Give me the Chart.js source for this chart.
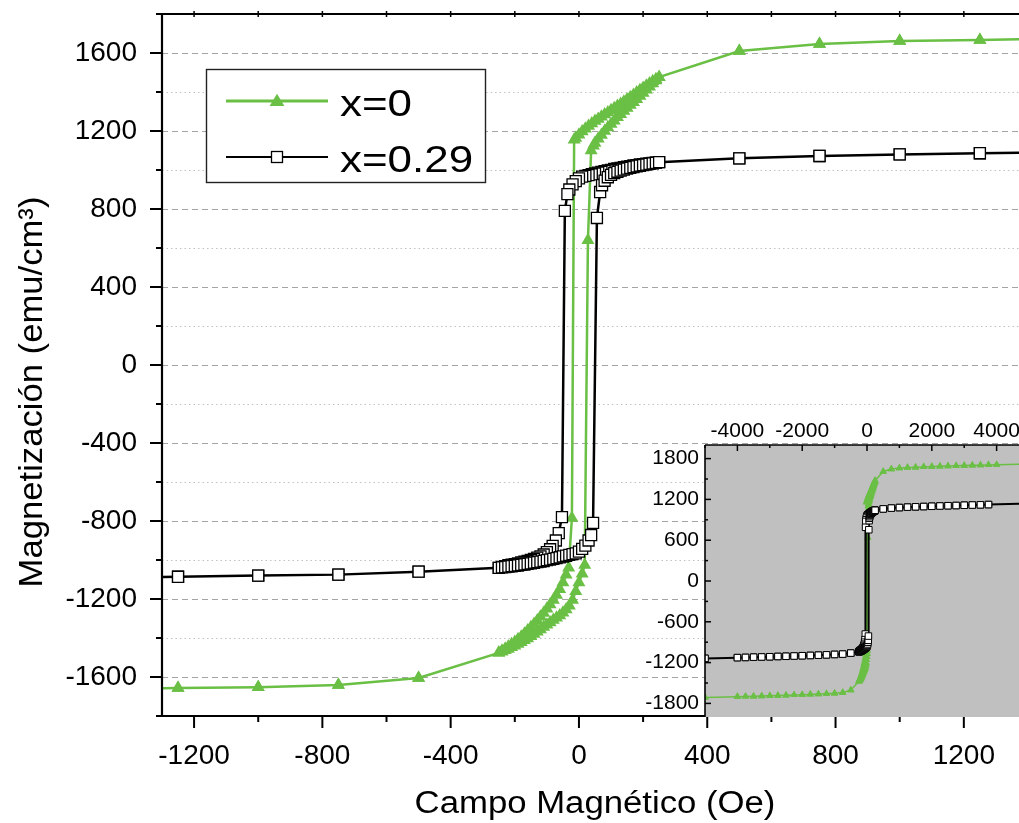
<!DOCTYPE html>
<html><head><meta charset="utf-8">
<script src="https://cdn.jsdelivr.net/npm/chart.js@4/dist/chart.umd.min.js"></script>
<style>
html,body{margin:0;padding:0;background:#fff;overflow:hidden;}
#wrap{position:relative;width:1019px;height:823px;}
#main{position:absolute;left:0;top:0;}
#inset{position:absolute;left:600px;top:380px;}
</style></head><body>
<div id="wrap">
<canvas id="main" width="1019" height="823"></canvas>
<canvas id="inset" width="419" height="443"></canvas>
</div>
<script>
// ---------------- DATA ----------------
const seriesLabels = ['x=0', 'x=0.29'];
const xTitle = 'Campo Magnético (Oe)';
const yTitle = 'Magnetización (emu/cm³)';

// main axis tick labels
const xTickLabels = [-1200, -800, -400, 0, 400, 800, 1200];
const xMinorTicks = [-1000, -600, -200, 200, 600, 1000];
const yTickLabels = [-1600, -1200, -800, -400, 0, 400, 800, 1200, 1600];
const yMinorTicks = [-1800, -1400, -1000, -600, -200, 200, 600, 1000, 1400, 1800];
// inset axis tick labels
const insetXTickLabels = [-4000, -2000, 0, 2000, 4000];
const insetXMinorTicks = [-5000, -3000, -1000, 1000, 3000];
const insetYTickLabels = [-1800, -1200, -600, 0, 600, 1200, 1800];
const insetYMinorTicks = [-1500, -900, -300, 300, 900, 1500];

// x = 0 : descending branch (field decreasing)
const fieldDown_x0 = [5000, 4000, 3750, 3500, 3250, 3000, 2750, 2500, 2250, 2000, 1750, 1500, 1250, 1000, 750, 500,
  250, 240, 230, 220, 210, 200, 190, 180, 170, 160, 150, 140, 130, 120, 110, 100, 90, 80, 70, 60, 50, 40, 30, 20, 10, 0, -10,
  -15, -22, -32,
  -40, -50, -60, -70, -80, -90, -100, -110, -120, -130, -140, -150, -160, -170, -180, -190, -200, -210, -220, -230, -240, -250,
  -500, -750, -1000, -1250, -1500, -1750, -2000, -2250, -2500, -2750, -3000, -3250, -3500, -3750, -4000, -5000];
const magDown_x0 = [1722, 1710, 1707, 1704, 1701, 1698, 1694, 1690, 1686, 1682, 1678, 1673, 1667, 1661, 1646, 1610,
  1476, 1466, 1455, 1444, 1432, 1421, 1409, 1397, 1385, 1373, 1361, 1350, 1339, 1328, 1317, 1306, 1295, 1284, 1273, 1262, 1251, 1239, 1226, 1212, 1197, 1181, 1164,
  1155, -785, -1040,
  -1075, -1115, -1150, -1180, -1205, -1228, -1250, -1272, -1291, -1310, -1328, -1345, -1362, -1378, -1393, -1407, -1420, -1432, -1444, -1455, -1465, -1476,
  -1605, -1641, -1652, -1657, -1663, -1668, -1672, -1676, -1680, -1684, -1688, -1692, -1695, -1698, -1701, -1712];
// x = 0 : ascending branch (field increasing)
const fieldUp_x0 = [-5000, -4000, -3750, -3500, -3250, -3000, -2750, -2500, -2250, -2000, -1750, -1500, -1250, -1000, -750, -500,
  -250, -240, -230, -220, -210, -200, -190, -180, -170, -160, -150, -140, -130, -120, -110, -100, -90, -80, -70, -60, -50, -40, -30, -20, -10, 0,
  10, 18, 28, 38,
  45, 50, 60, 70, 80, 90, 100, 110, 120, 130, 140, 150, 160, 170, 180, 190, 200, 210, 220, 230, 240, 250,
  500, 750, 1000, 1250, 1500, 1750, 2000, 2250, 2500, 2750, 3000, 3250, 3500, 3750, 4000, 5000];
const magUp_x0 = [-1712, -1701, -1698, -1695, -1692, -1688, -1684, -1680, -1676, -1672, -1668, -1663, -1657, -1652, -1641, -1605,
  -1476, -1470, -1463, -1456, -1448, -1440, -1431, -1422, -1412, -1402, -1391, -1380, -1368, -1356, -1344, -1332, -1320, -1308, -1296, -1284, -1270, -1254, -1234, -1205, -1160, -1115,
  -1070, -1025, 640, 1100,
  1125, 1138, 1160, 1180, 1200, 1218, 1236, 1253, 1270, 1286, 1302, 1318, 1333, 1348, 1363, 1380, 1395, 1411, 1427, 1443, 1459, 1476,
  1610, 1646, 1661, 1667, 1673, 1678, 1682, 1686, 1690, 1694, 1698, 1701, 1704, 1707, 1710, 1722];

// x = 0.29 : descending branch
const fieldDown_x029 = [5000, 3750, 3500, 3250, 3000, 2750, 2500, 2250, 2000, 1750, 1500, 1250, 1000, 750, 500,
  250, 240, 230, 220, 210, 200, 190, 180, 170, 160, 150, 140, 130, 120, 110, 100, 90, 80, 70, 60, 50, 40, 30, 20, 10, 0,
  -10, -20, -30, -36, -44,
  -53, -63, -72, -82, -90,
  -100, -110, -120, -130, -140, -150, -160, -170, -180, -190, -200, -210, -220, -230, -240, -250,
  -500, -750, -1000, -1250, -1500, -1750, -2000, -2250, -2500, -2750, -3000, -3250, -3500, -3750, -4000, -5000];
const magDown_x029 = [1138, 1124, 1120, 1117, 1114, 1110, 1107, 1103, 1099, 1095, 1091, 1086, 1080, 1072, 1060,
  1040, 1038, 1036, 1034, 1032, 1030, 1028, 1025, 1023, 1020, 1017, 1014, 1011, 1008, 1005, 1001, 998, 994, 990, 986, 982, 978, 974, 970, 966, 957,
  943, 926, 900, 876, 790,
  -780, -862, -900, -928, -945,
  -960, -972, -981, -988, -995, -1000, -1005, -1009, -1013, -1017, -1021, -1024, -1027, -1031, -1035, -1040,
  -1060, -1075, -1080, -1086, -1091, -1095, -1099, -1103, -1107, -1110, -1114, -1117, -1120, -1124, -1127, -1138];
// x = 0.29 : ascending branch
const fieldUp_x029 = [-5000, -4000, -3750, -3500, -3250, -3000, -2750, -2500, -2250, -2000, -1750, -1500, -1250, -1000, -750, -500,
  -250, -240, -230, -220, -210, -200, -190, -180, -170, -160, -150, -140, -130, -120, -110, -100, -90, -80, -70, -60, -50, -40, -30, -20, -10, 0,
  10, 20, 30, 38, 44,
  56, 66, 72, 80, 90, 100, 110, 120, 130, 140, 150, 160, 170, 180, 190, 200, 210, 220, 230, 240, 250,
  500, 750, 1000, 1250, 1500, 1750, 2000, 2250, 2500, 2750, 3000, 3250, 3500, 3750, 5000];
const magUp_x029 = [-1138, -1127, -1124, -1120, -1117, -1114, -1110, -1107, -1103, -1099, -1095, -1091, -1086, -1080, -1075, -1060,
  -1040, -1038, -1036, -1034, -1032, -1030, -1028, -1025, -1023, -1020, -1017, -1014, -1011, -1008, -1005, -1001, -998, -994, -990, -986, -982, -978, -974, -970, -966, -957,
  -943, -926, -900, -872, -810,
  754, 887, 922, 945, 963, 975, 984, 991, 997, 1002, 1007, 1011, 1015, 1019, 1022, 1025, 1028, 1031, 1034, 1037, 1040,
  1060, 1072, 1080, 1086, 1091, 1095, 1099, 1103, 1107, 1110, 1114, 1117, 1120, 1124, 1138];

// ---------------- STYLE ----------------
const GREEN = '#6abf45';
const FONT = '"Liberation Sans", Arial, sans-serif';

function makeLoop(fd, md, fu, mu) {
  return fd.map((h, i) => ({x: h, y: md[i]})).concat(fu.map((h, i) => ({x: h, y: mu[i]})));
}
function strokeLine(ctx, x1, y1, x2, y2) {
  ctx.beginPath(); ctx.moveTo(x1, y1); ctx.lineTo(x2, y2); ctx.stroke();
}
function noPad(s) { s.paddingTop = 0; s.paddingBottom = 0; s.paddingLeft = 0; s.paddingRight = 0; }

const mainDecor = {
  id: 'mainDecor',
  beforeDatasetsDraw(chart) {
    const {ctx, chartArea: a} = chart;
    const y = chart.scales.y;
    ctx.save();
    ctx.lineWidth = 1;
    ctx.strokeStyle = '#c2c2c2';
    ctx.setLineDash([1.5, 3]);
    yMinorTicks.forEach(v => {
      if (v <= y.min || v >= y.max) return;
      const py = Math.round(y.getPixelForValue(v)) + 0.5;
      strokeLine(ctx, a.left, py, a.right, py);
    });
    ctx.strokeStyle = '#a4a4a4';
    ctx.setLineDash([6, 4]);
    yTickLabels.forEach(v => {
      const py = Math.round(y.getPixelForValue(v)) + 0.5;
      strokeLine(ctx, a.left, py, a.right, py);
    });
    ctx.restore();
  },
  afterDraw(chart) {
    const {ctx, chartArea: a} = chart;
    const xs = chart.scales.x, ys = chart.scales.y;
    ctx.save();
    ctx.strokeStyle = '#000';
    ctx.lineCap = 'butt';
    ctx.lineWidth = 2;
    yTickLabels.forEach(v => { const p = ys.getPixelForValue(v); strokeLine(ctx, a.left - 12, p, a.left, p); });
    yMinorTicks.forEach(v => { const p = ys.getPixelForValue(v); strokeLine(ctx, a.left - 6, p, a.left, p); });
    xTickLabels.forEach(v => { const p = xs.getPixelForValue(v); strokeLine(ctx, p, a.bottom, p, a.bottom + 12); });
    xMinorTicks.forEach(v => { const p = xs.getPixelForValue(v); strokeLine(ctx, p, a.bottom, p, a.bottom + 6); });
    ctx.lineWidth = 1.5;
    xTickLabels.concat(xMinorTicks).forEach(v => { const p = xs.getPixelForValue(v); strokeLine(ctx, p, a.top - 3, p, a.top + 3); });
    ctx.lineWidth = 2.2;
    strokeLine(ctx, a.left, a.top - 1, a.left, a.bottom + 1);
    strokeLine(ctx, a.left - 1, a.top, a.right, a.top);
    strokeLine(ctx, a.left - 1, a.bottom, a.right, a.bottom);

    // legend
    const lx = 206, ly = 69, lw = 279, lh = 113;
    ctx.fillStyle = '#fff';
    ctx.fillRect(lx, ly, lw, lh);
    ctx.lineWidth = 1.4;
    ctx.strokeStyle = '#222';
    ctx.strokeRect(lx + 0.5, ly + 0.5, lw, lh);
    const rows = [
      {ds: chart.data.datasets[1], y: 101, lw: 3},
      {ds: chart.data.datasets[0], y: 157, lw: 2}
    ];
    rows.forEach(r => {
      ctx.strokeStyle = r.ds.borderColor;
      ctx.lineWidth = r.lw;
      strokeLine(ctx, 226, r.y, 328, r.y);
      if (r.ds.pointStyle === 'triangle') {
        const rr = 8.2, cx = 277, cy = r.y + 1;
        ctx.fillStyle = r.ds.pointBackgroundColor;
        ctx.beginPath();
        ctx.moveTo(cx, cy - rr);
        ctx.lineTo(cx + rr * 0.9, cy + rr * 0.5);
        ctx.lineTo(cx - rr * 0.9, cy + rr * 0.5);
        ctx.closePath();
        ctx.fill();
      } else {
        ctx.fillStyle = '#fff';
        ctx.fillRect(271.5, r.y - 5.5, 11, 11);
        ctx.lineWidth = 1.3;
        ctx.strokeStyle = '#000';
        ctx.strokeRect(271.5, r.y - 5.5, 11, 11);
      }
      ctx.save();
      ctx.fillStyle = '#000';
      ctx.font = '36px ' + FONT;
      ctx.textAlign = 'left';
      ctx.textBaseline = 'alphabetic';
      ctx.translate(340, r.y + 15);
      ctx.scale(1.22, 1);
      ctx.fillText(r.ds.label, 0, 0);
      ctx.restore();
    });

    // axis titles
    ctx.fillStyle = '#000';
    ctx.textAlign = 'center';
    ctx.textBaseline = 'alphabetic';
    ctx.save();
    ctx.font = '31px ' + FONT;
    ctx.translate(595, 813);
    ctx.scale(1.12, 1);
    ctx.fillText(xTitle, 0, 0);
    ctx.restore();
    ctx.save();
    ctx.font = '33px ' + FONT;
    ctx.translate(42, 392);
    ctx.rotate(-Math.PI / 2);
    ctx.scale(1.05, 1);
    ctx.fillText(yTitle, 0, 0);
    ctx.restore();
    ctx.restore();
  }
};

const insetDecor = {
  id: 'insetDecor',
  beforeDraw(chart) {
    const {ctx, chartArea: a} = chart;
    ctx.save();
    ctx.fillStyle = '#c0c0c0';
    ctx.fillRect(a.left, a.top, a.right - a.left, a.bottom - a.top);
    ctx.restore();
  },
  afterDraw(chart) {
    const {ctx, chartArea: a} = chart;
    const xs = chart.scales.x, ys = chart.scales.y;
    ctx.save();
    ctx.strokeStyle = '#000';
    ctx.lineWidth = 1.5;
    insetYTickLabels.forEach(v => { const p = ys.getPixelForValue(v); strokeLine(ctx, a.left, p, a.left + 6, p); });
    insetYMinorTicks.forEach(v => { const p = ys.getPixelForValue(v); strokeLine(ctx, a.left, p, a.left + 3, p); });
    insetXTickLabels.forEach(v => { const p = xs.getPixelForValue(v); strokeLine(ctx, p, a.top, p, a.top + 6); });
    insetXMinorTicks.forEach(v => { const p = xs.getPixelForValue(v); strokeLine(ctx, p, a.top, p, a.top + 3); });
    ctx.lineWidth = 1.6;
    strokeLine(ctx, a.left, a.top, a.left, a.bottom);
    strokeLine(ctx, a.left, a.top, a.right, a.top);
    ctx.restore();
  }
};

// ---------------- MAIN CHART ----------------
new Chart(document.getElementById('main'), {
  type: 'scatter',
  data: {
    datasets: [
      { label: seriesLabels[1], data: makeLoop(fieldDown_x029, magDown_x029, fieldUp_x029, magUp_x029),
        showLine: true, borderColor: '#000', borderWidth: 2.5,
        pointStyle: 'rect', pointRadius: 7.8, pointBackgroundColor: '#fff', pointBorderColor: '#000', pointBorderWidth: 1.3, order: 0 },
      { label: seriesLabels[0], data: makeLoop(fieldDown_x0, magDown_x0, fieldUp_x0, magUp_x0),
        showLine: true, borderColor: GREEN, borderWidth: 2.5,
        pointStyle: 'triangle', pointRadius: 7.5, pointBackgroundColor: GREEN, pointBorderColor: GREEN, pointBorderWidth: 0, order: 1 }
    ]
  },
  options: {
    responsive: false, animation: false, events: [], devicePixelRatio: 1,
    layout: { autoPadding: false, padding: { top: 14, left: 0, right: 0, bottom: 0 } },
    plugins: { legend: { display: false }, tooltip: { enabled: false } },
    scales: {
      x: {
        type: 'linear', min: -1300, max: 1372,
        grid: { display: false }, border: { display: false },
        afterBuildTicks: s => { s.ticks = xTickLabels.map(v => ({value: v})); },
        afterFit: s => { s.height = 107; noPad(s); },
        ticks: { autoSkip: false, maxRotation: 0, padding: 15, color: '#000',
                 font: { family: FONT, size: 28 }, callback: v => String(v) }
      },
      y: {
        type: 'linear', min: -1800, max: 1800,
        grid: { display: false }, border: { display: false },
        afterBuildTicks: s => { s.ticks = yTickLabels.map(v => ({value: v})); },
        afterFit: s => { s.width = 162; noPad(s); },
        ticks: { autoSkip: false, padding: 17, color: '#000',
                 font: { family: FONT, size: 28 }, callback: v => String(v) }
      }
    }
  },
  plugins: [mainDecor]
});

// ---------------- INSET CHART ----------------
new Chart(document.getElementById('inset'), {
  type: 'scatter',
  data: {
    datasets: [
      { label: seriesLabels[1], data: makeLoop(fieldDown_x029, magDown_x029, fieldUp_x029, magUp_x029),
        showLine: true, borderColor: '#000', borderWidth: 2,
        pointStyle: 'rect', pointRadius: 4.6, pointBackgroundColor: '#fff', pointBorderColor: '#000', pointBorderWidth: 1, order: 0, clip: 0 },
      { label: seriesLabels[0], data: makeLoop(fieldDown_x0, magDown_x0, fieldUp_x0, magUp_x0),
        showLine: true, borderColor: GREEN, borderWidth: 1.5,
        pointStyle: 'triangle', pointRadius: 4.3, pointBackgroundColor: GREEN, pointBorderColor: GREEN, pointBorderWidth: 0, order: 1, clip: 0 }
    ]
  },
  options: {
    responsive: false, animation: false, events: [], devicePixelRatio: 1,
    layout: { autoPadding: false, padding: { top: 0, left: 0, right: 0, bottom: 106 } },
    plugins: { legend: { display: false }, tooltip: { enabled: false } },
    scales: {
      x: {
        type: 'linear', position: 'top', min: -5000, max: 4691,
        grid: { display: false }, border: { display: false },
        afterBuildTicks: s => { s.ticks = insetXTickLabels.map(v => ({value: v})); },
        afterFit: s => { s.height = 65; noPad(s); },
        ticks: { autoSkip: false, maxRotation: 0, padding: -7, color: '#000',
                 font: { family: FONT, size: 21 }, callback: v => String(v) }
      },
      y: {
        type: 'linear', min: -2000, max: 2000,
        grid: { display: false }, border: { display: false },
        afterBuildTicks: s => { s.ticks = insetYTickLabels.map(v => ({value: v})); },
        afterFit: s => { s.width = 105; noPad(s); },
        ticks: { autoSkip: false, padding: -2, color: '#000',
                 font: { family: FONT, size: 21 }, callback: v => String(v) }
      }
    }
  },
  plugins: [insetDecor]
});
</script>
</body></html>
